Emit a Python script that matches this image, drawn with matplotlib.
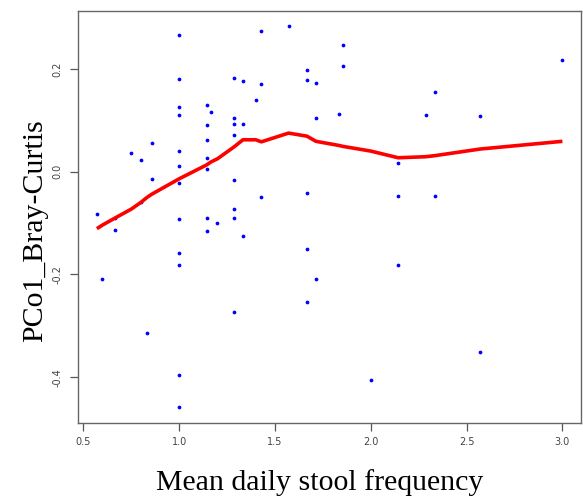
import numpy as np
import matplotlib
matplotlib.use("Agg")
import matplotlib.pyplot as plt

# stool frequency (x) vs first PCo axis of Bray-Curtis distances (y)
stool_freq = [1.0, 1.429, 1.571, 1.0, 1.286, 1.333, 1.429, 1.667, 1.667, 1.714,
              1.4, 1.143, 1.167, 1.0, 1.0, 1.286, 1.286, 1.333, 1.714, 1.143,
              1.286, 1.143, 1.0, 0.75, 0.857, 0.8, 1.143, 1.0, 1.143, 0.857,
              1.0, 1.286, 1.667, 1.429, 0.571, 1.286, 1.0, 1.143, 1.286, 0.667,
              0.667, 1.143, 1.2, 1.333, 1.0, 1.0, 0.6, 1.667, 1.714, 1.667,
              1.286, 0.833, 1.0, 1.0, 0.8, 1.857, 1.857, 2.333, 3.0, 1.833,
              2.286, 2.571, 2.143, 2.143, 2.333, 2.143, 2.571, 2.0]
pco1 = [0.266, 0.274, 0.283, 0.180, 0.183, 0.177, 0.171, 0.198, 0.178, 0.172,
        0.139, 0.130, 0.116, 0.126, 0.110, 0.104, 0.093, 0.093, 0.105, 0.090,
        0.071, 0.061, 0.040, 0.036, 0.055, 0.023, 0.026, 0.010, 0.005, -0.014,
        -0.023, -0.016, -0.041, -0.049, -0.083, -0.073, -0.093, -0.090, -0.090, -0.091,
        -0.113, -0.115, -0.100, -0.126, -0.158, -0.181, -0.209, -0.150, -0.209, -0.253,
        -0.273, -0.315, -0.395, -0.459, -0.060, 0.247, 0.205, 0.155, 0.217, 0.113,
        0.110, 0.109, 0.017, -0.182, -0.048, -0.048, -0.352, -0.405]

# smoothed trend evaluated at the sorted unique x values
fit_x = [0.571, 0.6, 0.667, 0.75, 0.8, 0.833, 0.857, 1.0, 1.143, 1.167, 1.2,
         1.286, 1.333, 1.4, 1.429, 1.571, 1.667, 1.714, 1.833, 1.857, 2.0,
         2.143, 2.286, 2.333, 2.571, 3.0]
fit_y = [-0.111, -0.104, -0.090, -0.073, -0.060, -0.050, -0.044, -0.014, 0.013,
         0.019, 0.025, 0.048, 0.062, 0.062, 0.058, 0.075, 0.069, 0.059, 0.051,
         0.049, 0.040, 0.027, 0.029, 0.031, 0.044, 0.059]

xticks = [0.5, 1.0, 1.5, 2.0, 2.5, 3.0]
yticks = [-0.4, -0.2, 0.0, 0.2]

fig = plt.figure(figsize=(5.83, 4.97), dpi=100)
ax = fig.add_axes([0.1343, 0.1495, 0.8623, 0.8284])

ax.plot(stool_freq, pco1, "o", color="#0000ff", ms=2.7, mew=0, zorder=2)
ax.plot(fit_x, fit_y, "-", color="#ff0000", lw=2.6, zorder=3, solid_capstyle="butt")

# R-style 4% padding around the data range
xr = max(stool_freq) - min(stool_freq)
yr = max(pco1) - min(pco1)
ax.set_xlim(min(stool_freq) - 0.04 * xr, max(stool_freq) + 0.04 * xr)
ax.set_ylim(min(pco1) - 0.04 * yr, max(pco1) + 0.04 * yr)

ax.set_xticks(xticks)
ax.set_xticklabels([f"{t:.1f}" for t in xticks])
ax.set_yticks(yticks)
ax.set_yticklabels([f"{t:.1f}" for t in yticks], rotation=90, va="center")
ax.tick_params(direction="out", length=5.5, width=0.9, color="#555555",
               labelsize=7, labelcolor="#444444", pad=5)
ax.tick_params(axis="y", pad=6)

for sp in ax.spines.values():
    sp.set_color("#666666")
    sp.set_linewidth(1.0)

fig.text(0.549, 0.030, "Mean daily stool frequency", family="Liberation Serif",
         fontsize=21.5, ha="center", va="center")
fig.text(0.060, 0.535, "PCo1_Bray-Curtis", family="Liberation Serif",
         fontsize=21.5, ha="center", va="center", rotation=90)

fig.savefig("out.png", dpi=100)
